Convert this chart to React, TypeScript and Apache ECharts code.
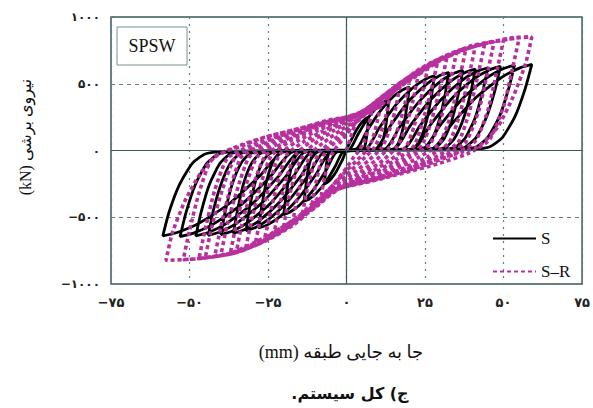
import React, { useEffect, useRef } from "react";
import * as echarts from "echarts";

// ---- tick values and labels (Persian digits) ----
const xTicks = [-75, -50, -25, 0, 25, 50, 75];
const xTickLabels = ["−۷۵", "−۵۰", "−۲۵", "۰", "۲۵", "۵۰", "۷۵"];
const yTicks = [-1000, -500, 0, 500, 1000];
const yTickLabels = ["−۱۰۰۰", "−۵۰۰", "۰", "۵۰۰", "۱۰۰۰"];

const xName = "(mm) جا به جایی طبقه";
const yName = "(kN) نیروی برشی";
const caption = "ج) کل سیستم.\u200F";
const boxLabel = "SPSW";
const seriesNames = ["S", "S–R"];

// ---- S (black) hysteresis cycles: [displacement mm, shear kN] ----
const sCycle0 = [[0,10],[1.4,75],[3.2,155],[4.9,212],[6.2,240],[7,250],[6.75,180],[6.4,100],[5.9,38],[5.4,10],[4.7,3],[0,-10],[-1.4,-75],[-3.2,-155],[-4.9,-212],[-6.2,-240],[-7,-250],[-6.75,-180],[-6.4,-100],[-5.9,-38],[-5.4,-10],[-4.7,-3]];
const sCycle1 = [[1,10],[3.5,114],[6.6,236],[9.75,323],[12,365],[13.5,380],[13,274],[12.3,152],[11.3,57],[10.4,15],[9,4],[-1,-10],[-3.5,-114],[-6.6,-236],[-9.75,-323],[-12,-365],[-13.5,-380],[-13,-274],[-12.3,-152],[-11.3,-57],[-10.4,-15],[-9,-4]];
const sCycle2 = [[3,10],[6.4,143],[10.7,295],[14.9,404],[18,456],[20,475],[19.3,342],[18.2,190],[16.8,71],[15.4,19],[13.4,5],[-3,-10],[-6.4,-144],[-10.7,-298],[-14.9,-408],[-18,-461],[-20,-480],[-19.3,-346],[-18.2,-192],[-16.8,-72],[-15.4,-19],[-13.4,-5]];
const sCycle3 = [[6,10],[10.4,168],[15.9,347],[21.4,476],[25.4,538],[28,560],[27,403],[25.5,224],[23.5,84],[21.6,22],[18.8,6],[-5,-10],[-9.6,-174],[-15.4,-360],[-21.1,-493],[-25.2,-557],[-28,-580],[-27,-418],[-25.5,-232],[-23.5,-87],[-21.6,-23],[-18.8,-6]];
const sCycle4 = [[9,10],[13.7,176],[19.6,363],[25.5,497],[29.7,562],[32.5,585],[31.4,421],[29.6,234],[27.3,88],[25,23],[21.8,6],[-7,-10],[-12,-180],[-18.3,-372],[-24.5,-510],[-29,-576],[-32,-600],[-30.9,-432],[-29.1,-240],[-26.9,-90],[-24.6,-24],[-21.4,-6]];
const sCycle5 = [[12,10],[17,180],[23.3,372],[29.5,510],[34,576],[37,600],[35.7,432],[33.7,240],[31.1,90],[28.5,24],[24.8,6],[-9,-10],[-14.4,-186],[-21.2,-384],[-27.9,-527],[-32.8,-595],[-36,-620],[-34.7,-446],[-32.8,-248],[-30.2,-93],[-27.7,-25],[-24.1,-6]];
const sCycle6 = [[15,10],[20.2,183],[26.7,378],[33.2,519],[37.9,586],[41,610],[39.6,439],[37.3,244],[34.4,92],[31.6,24],[27.5,6],[-11,-10],[-16.8,-189],[-24,-391],[-31.3,-536],[-36.5,-605],[-40,-630],[-38.6,-454],[-36.4,-252],[-33.6,-95],[-30.8,-25],[-26.8,-6]];
const sCycle7 = [[18,10],[23.4,186],[30.2,384],[36.9,527],[41.8,595],[45,620],[43.4,446],[41,248],[37.8,93],[34.6,25],[30.1,6],[-13,-10],[-19.2,-190],[-27,-394],[-34.7,-540],[-40.3,-610],[-44,-635],[-42.5,-457],[-40,-254],[-37,-95],[-33.9,-25],[-29.5,-6]];
const sCycle8 = [[21,10],[26.6,189],[33.6,391],[40.6,536],[45.6,605],[49,630],[47.3,454],[44.6,252],[41.2,95],[37.7,25],[32.8,6],[-15,-10],[-21.6,-192],[-29.9,-397],[-38.1,-544],[-44,-614],[-48,-640],[-46.3,-461],[-43.7,-256],[-40.3,-96],[-37,-26],[-32.2,-6]];
const sCycle9 = [[24,10],[29.9,192],[37.3,397],[44.7,544],[50,614],[53.5,640],[51.6,461],[48.7,256],[44.9,96],[41.2,26],[35.8,6],[-17,-10],[-24.2,-194],[-33.2,-400],[-42.2,-548],[-48.7,-619],[-53,-645],[-51.1,-464],[-48.2,-258],[-44.5,-97],[-40.8,-26],[-35.5,-6]];
const sCycle10 = [[27,10],[33.4,194],[41.4,400],[49.4,548],[55.2,619],[59,645],[56.9,464],[53.7,258],[49.6,97],[45.4,26],[39.5,6],[-20,-10],[-27.7,-192],[-37.3,-397],[-46.9,-544],[-53.9,-614],[-58.5,-640],[-56.5,-461],[-53.2,-256],[-49.1,-96],[-45,-26],[-39.2,-6],[27,10]];

// ---- S-R (magenta) hysteresis cycles ----
const rCycle1 = [[0,0],[3,210],[6,275],[8,290],[7,180],[5.5,60],[4,0],[2,-60],[0,-130],[-3,-220],[-6,-300],[-8,-330],[-7,-200],[-5.5,-70],[-4,0],[-2,60],[0,120],[3,210],[6,275],[8,290]];
const rCycle1b = [[11,360],[9.8,220],[8.2,80],[6.5,5],[3.5,-70],[0,-150],[-4,-250],[-8,-350],[-11,-410],[-9.8,-250],[-8.2,-90],[-6.5,-5],[-3.5,65],[0,140],[4,230],[8,310],[11,360]];
const rCycle2 = [[14,420],[12.5,260],[10.5,100],[8.5,10],[5,-70],[1,-160],[-3,-250],[-7,-340],[-11,-430],[-14,-470],[-12.5,-290],[-10.5,-110],[-8.5,-10],[-5,60],[-1,140],[3,220],[7,300],[11,385],[14,420]];
const rCycle2b = [[17,480],[15.5,300],[13.2,120],[11,15],[7,-75],[2.5,-165],[-2,-245],[-7,-335],[-12,-440],[-17,-520],[-15.5,-330],[-13.2,-130],[-11,-15],[-7,65],[-2,150],[3,225],[8,320],[13,420],[17,480]];
const rCycle3 = [[20,530],[18.5,340],[16,140],[13.5,20],[9,-80],[4,-170],[-1,-250],[-6,-330],[-11,-430],[-16,-520],[-20,-570],[-18.5,-370],[-16,-150],[-13.5,-20],[-9,70],[-4,150],[1,220],[6,300],[11,390],[16,470],[20,530]];
const rCycle3b = [[23,585],[21.2,380],[18.7,160],[16,25],[11.5,-75],[6,-165],[0,-240],[-6,-320],[-12,-440],[-18,-540],[-23,-610],[-21.2,-400],[-18.7,-170],[-16,-25],[-11.5,65],[-6,145],[0,215],[6,300],[12,410],[18,520],[23,585]];
const rCycle4 = [[26,630],[24,420],[21.5,180],[19,30],[14,-70],[8,-160],[2,-230],[-4,-300],[-10,-420],[-16,-520],[-21,-600],[-26,-650],[-24,-440],[-21.5,-200],[-19,-30],[-14,60],[-8,140],[-2,210],[4,270],[10,380],[16,490],[21,570],[26,630]];
const rCycle4b = [[29,665],[27,455],[24,200],[21.5,35],[16,-65],[9.5,-160],[3,-230],[-3.5,-295],[-9.5,-415],[-16,-530],[-22,-620],[-29,-690],[-27,-470],[-24,-215],[-21.5,-35],[-16,65],[-9.5,145],[-3,210],[3.5,265],[9.5,370],[16,490],[23,600],[29,665]];
const rCycle5 = [[32,700],[30,490],[27,220],[24,40],[18,-60],[11,-160],[4,-230],[-3,-290],[-9,-410],[-16,-530],[-22,-620],[-27,-680],[-32,-720],[-30,-500],[-27,-230],[-24,-40],[-18,70],[-11,150],[-4,210],[3,260],[9,360],[16,480],[22,590],[27,660],[32,700]];
const rCycle5b = [[35,730],[33,515],[30,235],[26.5,45],[20,-55],[13,-155],[5.5,-225],[-1.5,-275],[-8,-380],[-15,-510],[-22,-620],[-29,-705],[-35,-750],[-33,-520],[-29.5,-245],[-26,-45],[-20,60],[-12.5,145],[-5,210],[2,255],[8,340],[15,465],[22,580],[29,680],[35,730]];
const rCycle6 = [[38,760],[36,540],[33,250],[29.5,50],[23,-50],[15,-150],[7,-220],[0,-260],[-7,-340],[-14,-480],[-21,-600],[-28,-690],[-33,-745],[-37,-770],[-35,-540],[-32,-260],[-28.5,-50],[-22,50],[-14,140],[-6,210],[1,250],[7,320],[14,450],[21,570],[28,670],[33,725],[38,760]];
const rCycle6b = [[41,780],[39,560],[36,265],[32.5,55],[26,-45],[17.5,-140],[9,-210],[1.5,-255],[-6,-325],[-13,-465],[-20,-595],[-28,-700],[-34,-755],[-40,-785],[-38,-555],[-34.5,-270],[-31,-50],[-24.5,45],[-16,135],[-7.5,205],[0,248],[6.5,310],[13.5,440],[21,560],[29,680],[35,745],[41,780]];
const rCycle7 = [[44,800],[42,580],[39,280],[35.5,60],[29,-40],[20,-130],[11,-200],[3,-250],[-5,-310],[-12,-450],[-20,-590],[-28,-700],[-35,-765],[-42,-795],[-40,-570],[-37,-280],[-33.5,-50],[-27,40],[-18,130],[-9,200],[-1,245],[6,300],[13,430],[21,550],[29,670],[37,755],[44,800]];
const rCycle7b = [[47,815],[45,595],[42,290],[38,65],[31.5,-35],[22.5,-120],[13,-190],[4,-245],[-4.5,-305],[-11.5,-440],[-19.5,-585],[-28,-700],[-36,-765],[-45,-805],[-43,-580],[-39.5,-290],[-35.5,-55],[-29,35],[-20,120],[-10.5,190],[-2,240],[5.5,290],[12.5,415],[21,545],[30,680],[39,780],[47,815]];
const rCycle8 = [[50,830],[48,610],[45,300],[41,70],[34,-30],[25,-110],[15,-180],[5,-240],[-4,-300],[-11,-430],[-19,-580],[-28,-700],[-37,-770],[-47,-810],[-45,-590],[-42,-300],[-38,-60],[-31,30],[-22,110],[-12,180],[-3,235],[5,280],[12,400],[21,540],[31,690],[41,790],[50,830]];
const rCycle9 = [[55,845],[53,630],[50,330],[45.5,80],[39,-20],[29,-100],[18,-170],[8,-230],[-2,-285],[-9,-400],[-17,-560],[-26,-680],[-36,-770],[-45,-805],[-52,-818],[-50,-600],[-47,-320],[-43,-70],[-36,20],[-26,100],[-15,165],[-5,225],[3,265],[11,390],[20,530],[30,680],[42,790],[55,845]];
const rCycle10 = [[59,850],[57,650],[53,400],[48,170],[42,30],[37,-10],[28,-70],[21,-125],[12.6,-200],[5,-240],[-2,-280],[-7.2,-320],[-15.7,-500],[-26,-650],[-37,-770],[-47,-810],[-57.5,-823],[-55.5,-620],[-51.5,-380],[-46.5,-170],[-41,-30],[-35,20],[-26,100],[-15.7,160],[-5.3,230],[2,255],[5.3,280],[10.4,327],[15.7,455],[21,550],[26,630],[31.5,700],[37,755],[45,805],[52.5,845],[59,850]];

const sData = [sCycle0, sCycle1, sCycle2, sCycle3, sCycle4, sCycle5, sCycle6, sCycle7, sCycle8, sCycle9, sCycle10].flat();
const rData = [rCycle1, rCycle1b, rCycle2, rCycle2b, rCycle3, rCycle3b, rCycle4, rCycle4b, rCycle5, rCycle5b, rCycle6, rCycle6b, rCycle7, rCycle7b, rCycle8, rCycle9, rCycle10].flat();

const AXIS_COLOR = "#3f5858";
const GRID_COLOR = "#5d7f80";
const MAGENTA = "#b8309e";

export default function App() {
  const ref = useRef<HTMLDivElement>(null);
  useEffect(() => {
    if (!ref.current) return;
    const chart = echarts.init(ref.current, undefined, { renderer: "svg" });
    const persian = "DejaVu Sans";
    const serif = "Liberation Serif, DejaVu Sans";
    chart.setOption({
      animation: false,
      backgroundColor: "#ffffff",
      grid: {
        left: 111,
        right: 5,
        top: 17,
        bottom: 124,
        show: true,
        borderColor: AXIS_COLOR,
        borderWidth: 1.5,
        backgroundColor: "transparent",
      },
      xAxis: {
        type: "value",
        min: -75,
        max: 75,
        interval: 25,
        axisLine: { show: false },
        axisTick: { show: false },
        axisLabel: {
          margin: 12,
          fontFamily: persian,
          fontWeight: "bold",
          fontSize: 13,
          color: "#222",
          formatter: (v: number) => {
            const i = xTicks.indexOf(Math.round(v));
            return i >= 0 ? xTickLabels[i] : "";
          },
        },
        splitLine: { show: true, lineStyle: { color: GRID_COLOR, type: [2, 5], width: 1.2 } },
      },
      yAxis: {
        type: "value",
        min: -1000,
        max: 1000,
        interval: 500,
        axisLine: { show: false },
        axisTick: { show: false },
        axisLabel: {
          margin: 11,
          fontFamily: persian,
          fontWeight: "bold",
          fontSize: 12,
          color: "#222",
          formatter: (v: number) => {
            const i = yTicks.indexOf(Math.round(v));
            return i >= 0 ? yTickLabels[i] : "";
          },
        },
        splitLine: { show: true, lineStyle: { color: GRID_COLOR, type: [4, 4], width: 1 } },
      },
      legend: {
        orient: "vertical",
        left: 487,
        top: 225,
        itemWidth: 43,
        itemHeight: 14,
        itemGap: 16,
        data: seriesNames,
        itemStyle: { opacity: 0 },
        textStyle: { fontFamily: serif, fontSize: 17, color: "#111" },
        selectedMode: false,
      },
      graphic: [
        {
          type: "rect",
          shape: { x: 117, y: 27, width: 70, height: 38 },
          style: { fill: "#fff", stroke: "#7a8e8e", lineWidth: 1 },
          z: 10,
        },
        {
          type: "text",
          x: 152,
          y: 46,
          style: {
            text: boxLabel,
            fontFamily: serif,
            fontSize: 18,
            fill: "#111",
            textAlign: "center",
            textVerticalAlign: "middle",
          },
          z: 11,
        },
        {
          type: "text",
          x: 25,
          y: 137,
          rotation: Math.PI / 2,
          style: {
            text: yName,
            fontFamily: serif,
            fontSize: 16,
            fill: "#111",
            textAlign: "center",
            textVerticalAlign: "middle",
          },
        },
        {
          type: "text",
          x: 341,
          y: 352,
          style: {
            text: xName,
            fontFamily: serif,
            fontSize: 18,
            fill: "#111",
            textAlign: "center",
            textVerticalAlign: "middle",
          },
        },
        {
          type: "text",
          x: 350,
          y: 393,
          style: {
            text: caption,
            fontFamily: persian,
            fontSize: 16,
            fontWeight: "bold",
            fill: "#111",
            textAlign: "center",
            textVerticalAlign: "middle",
          },
        },
      ],
      series: [
        {
          name: "zero",
          type: "line",
          data: [],
          z: 1,
          silent: true,
          markLine: {
            silent: true,
            symbol: ["none", "none"],
            label: { show: false },
            lineStyle: { type: "solid", color: AXIS_COLOR, width: 1.2 },
            data: [{ xAxis: 0 }, { yAxis: 0 }],
          },
        },
        {
          name: seriesNames[0],
          type: "line",
          data: sData,
          showSymbol: false,
          symbol: "none",
          smooth: 0.2,
          lineStyle: { color: "#000", width: 2.8, type: "solid" },
          itemStyle: { color: "#000" },
          z: 2,
        },
        {
          name: seriesNames[1],
          type: "line",
          data: rData,
          showSymbol: false,
          symbol: "none",
          smooth: 0.2,
          lineStyle: { color: MAGENTA, width: 3.6, type: [4, 3] },
          itemStyle: { color: MAGENTA },
          z: 3,
        },
      ],
    });
    return () => chart.dispose();
  }, []);
  return (
    <div
      ref={ref}
      style={{ position: "fixed", left: 0, top: 0, width: 593, height: 408, background: "#fff" }}
    />
  );
}
